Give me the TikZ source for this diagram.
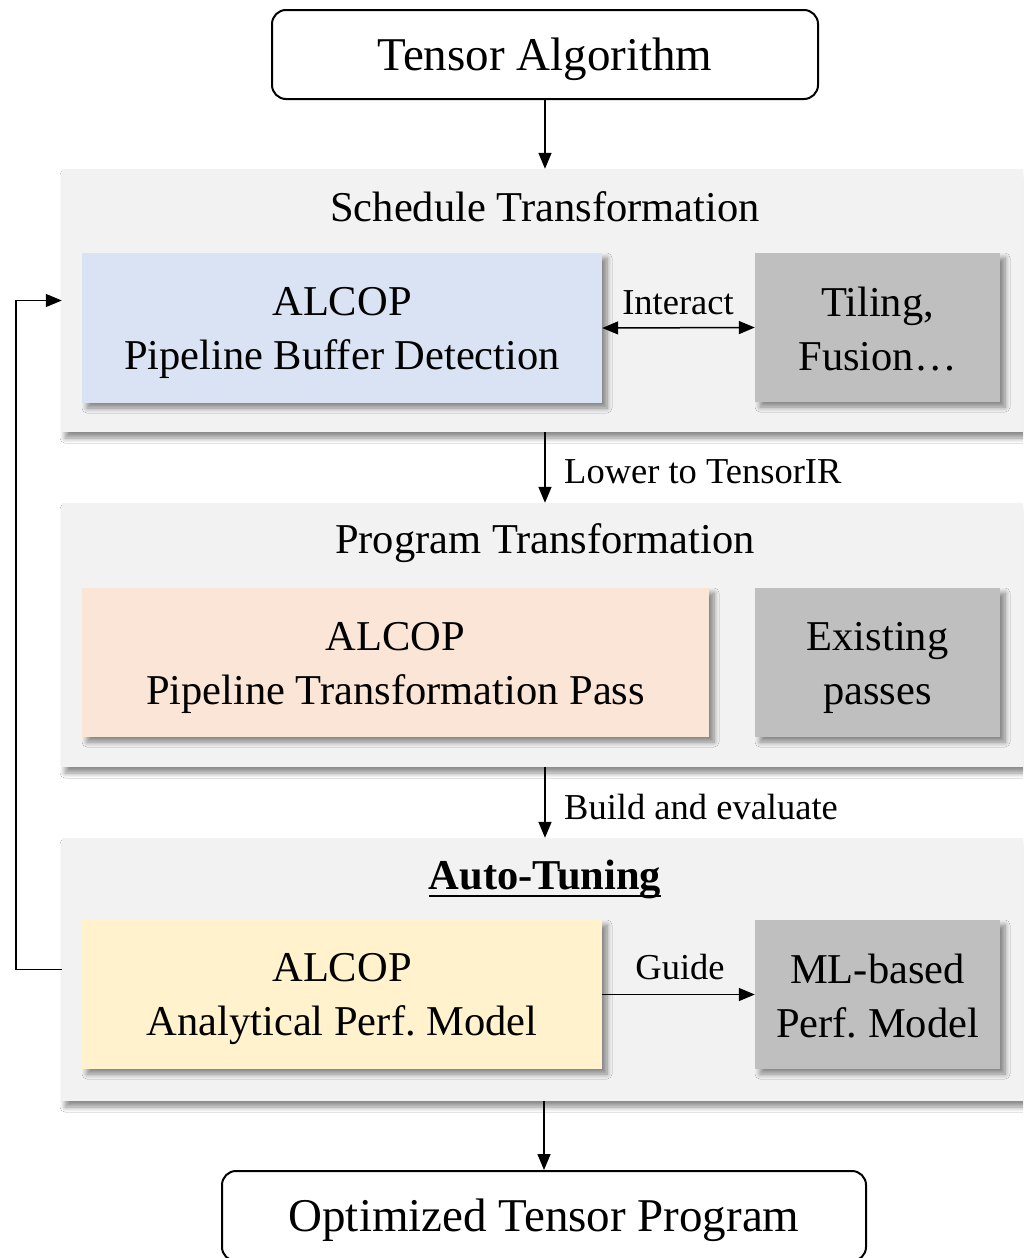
\documentclass[tikz,border=0pt]{standalone}
\usepackage{fontspec}
\setmainfont{Liberation Serif}
\frenchspacing
\usetikzlibrary{arrows.meta,shadows.blur}
\definecolor{panelgray}{HTML}{F2F2F2}
\definecolor{boxblue}{HTML}{DAE3F3}
\definecolor{boxpeach}{HTML}{FBE5D6}
\definecolor{boxyellow}{HTML}{FFF2CC}
\definecolor{boxgray}{HTML}{BFBFBF}
\tikzset{
  io/.style={draw, line width=2pt, rounded corners=14pt, fill=white,
    font=\fontsize{47}{56}\selectfont},
  panel/.style={fill=panelgray, draw=none,
    blur shadow={shadow xshift=3pt, shadow yshift=-6pt, shadow blur steps=8, shadow blur radius=5pt, shadow opacity=45}},
  inner/.style={draw=none, minimum width=245pt, minimum height=149pt,
    blur shadow={shadow xshift=5pt, shadow yshift=-5pt, shadow blur steps=8, shadow blur radius=5pt, shadow opacity=45}},
  innertext/.style={align=center, font=\fontsize{42.5}{54}\selectfont},
  ttl/.style={font=\fontsize{42.5}{50}\selectfont},
  lbl/.style={font=\fontsize{36.5}{44}\selectfont, inner sep=0pt},
  conn/.style={line width=1.5pt, -{Triangle[length=16pt,width=13pt]}},
  dconn/.style={line width=1.5pt, {Triangle[length=16pt,width=13pt]}-{Triangle[length=16pt,width=13pt]}},
}
\begin{document}
\begin{tikzpicture}[x=1pt,y=-1pt]
\clip (0,0) rectangle (1023,1258);
\fill[white] (0,0) rectangle (1023,1258);

% input and output
\node[io, minimum width=546pt, minimum height=89pt] (alg) at (545,54.5) {};
\node[io, minimum width=644pt, minimum height=90pt] (out) at (544,1216) {};
\node[font=\fontsize{47}{56}\selectfont] (algtxt) at (545,59) {Tensor Algorithm};
\node[font=\fontsize{47}{56}\selectfont] (outtxt) at (544,1220) {Optimized Tensor Program};

% stage panels
\node[panel, minimum width=978pt, minimum height=263pt] (p1) at (551,300.5) {};
\node[panel, minimum width=978pt, minimum height=264pt] (p2) at (551,635) {};
\node[panel, minimum width=978pt, minimum height=263pt] (p3) at (551,969.5) {};

\node[ttl] (t1) at (545,207) {Schedule Transformation};
\node[ttl] (t2) at (545,543) {Program Transformation};
\node[ttl, inner xsep=0pt] (t3) at (545,879) {\textbf{Auto-Tuning}};
\draw[line width=2.5pt] ([yshift=-7pt]t3.base west) -- ([yshift=-7pt]t3.base east);

% boxes inside the panels
\node[inner, fill=boxblue, minimum width=520pt, minimum height=150pt] (pbd) at (342,328) {};
\node[inner, fill=boxgray] (tile) at (877.5,327.5) {};
\node[inner, fill=boxpeach, minimum width=627pt] (ptp) at (395.5,662.5) {};
\node[inner, fill=boxgray] (exist) at (877.5,662.5) {};
\node[inner, fill=boxyellow, minimum width=520pt] (apm) at (342,994.5) {};
\node[inner, fill=boxgray] (ml) at (877.5,994.5) {};

\node[innertext] at (342,333) {ALCOP\\Pipeline Buffer Detection};
\node[innertext] at (877.5,329) {Tiling,\\Fusion…};
\node[innertext] at (395.5,667.5) {ALCOP\\Pipeline Transformation Pass};
\node[innertext] at (877.5,667.5) {Existing\\passes};
\node[innertext] at (342,999.5) {ALCOP\\Analytical Perf. Model};
\node[innertext] at (877.5,996.5) {ML-based\\Perf. Model};

% connectors
\draw[conn] (alg.south) -- (alg.south |- p1.north);
\draw[conn] (p1.south -| alg.south) -- (p2.north -| alg.south);
\draw[conn] (p2.south -| alg.south) -- (p3.north -| alg.south);
\draw[conn] (p3.south -| out.north) -- (out.north);
\draw[dconn] (pbd.east) -- (tile.west);
\draw[conn] (apm.east) -- (ml.west);
\draw[conn] (p3.west) -- ++(-46,0) |- (p1.west);

% connector labels
\node[lbl] (l1) at (678,303) {Interact};
\node[lbl, anchor=west] (l2) at (564,472) {Lower to TensorIR};
\node[lbl, anchor=west] (l3) at (564,807) {Build and evaluate};
\node[lbl] (l4) at (680,967) {Guide};
\end{tikzpicture}
\end{document}
